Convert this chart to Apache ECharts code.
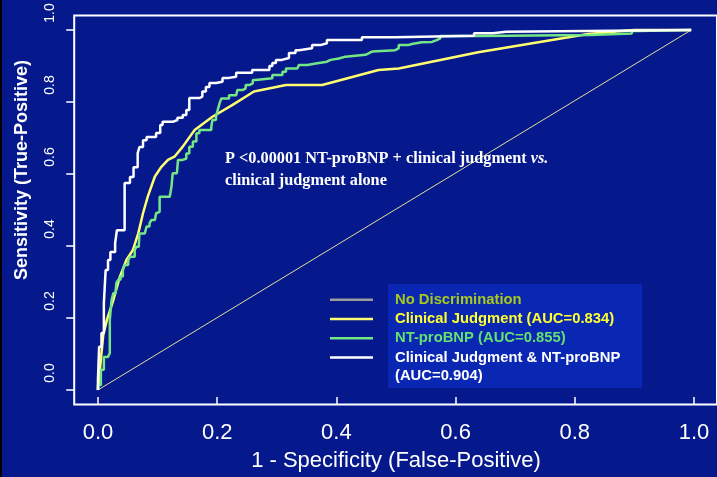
<!DOCTYPE html>
<html>
<head>
<meta charset="utf-8">
<title>ROC curves</title>
<script src="https://cdn.jsdelivr.net/npm/echarts@6/dist/echarts.min.js"></script>
<style>
html, body { margin: 0; padding: 0; background: #05198c; }
#chart { width: 717px; height: 477px; }
</style>
</head>
<body>
<div id="chart"></div>
<script>
// points are [1 - specificity, sensitivity]
const noDiscrimination = [[0, 0], [1, 1]]

const clinicalJudgment = [
  [0, 0], [0.009, 0.153], [0.015, 0.194], [0.026, 0.25], [0.037, 0.315], [0.048, 0.361],
  [0.059, 0.389], [0.068, 0.435], [0.076, 0.491], [0.084, 0.537], [0.096, 0.593],
  [0.107, 0.62], [0.118, 0.639], [0.129, 0.648], [0.143, 0.676], [0.163, 0.722],
  [0.193, 0.759], [0.227, 0.792], [0.263, 0.829], [0.317, 0.847], [0.378, 0.847],
  [0.473, 0.889], [0.507, 0.893], [0.641, 0.938], [0.826, 0.989], [0.904, 1], [1, 1]
]

const ntProBNP = [
  [0, 0], [0, 0.014], [0.005, 0.056], [0.01, 0.092], [0.017, 0.097], [0.02, 0.103],
  [0.02, 0.194], [0.023, 0.25], [0.026, 0.269], [0.03, 0.278], [0.031, 0.297],
  [0.034, 0.306], [0.038, 0.315], [0.042, 0.333], [0.045, 0.347], [0.051, 0.361],
  [0.054, 0.37], [0.062, 0.389], [0.065, 0.398], [0.069, 0.407], [0.07, 0.435],
  [0.079, 0.44], [0.082, 0.454], [0.087, 0.463], [0.09, 0.472], [0.096, 0.477],
  [0.098, 0.491], [0.101, 0.495], [0.104, 0.537], [0.121, 0.542], [0.124, 0.565],
  [0.126, 0.602], [0.133, 0.606], [0.135, 0.639], [0.143, 0.643], [0.149, 0.657],
  [0.154, 0.676], [0.16, 0.69], [0.166, 0.713], [0.171, 0.722], [0.191, 0.731],
  [0.193, 0.75], [0.199, 0.759], [0.202, 0.778], [0.205, 0.796], [0.208, 0.81],
  [0.221, 0.819], [0.233, 0.824], [0.235, 0.833], [0.244, 0.838], [0.249, 0.847],
  [0.255, 0.852], [0.261, 0.861], [0.266, 0.866], [0.294, 0.875], [0.311, 0.884],
  [0.317, 0.893], [0.336, 0.898], [0.339, 0.903], [0.353, 0.907], [0.367, 0.912],
  [0.386, 0.917], [0.392, 0.921], [0.406, 0.926], [0.417, 0.931], [0.451, 0.935],
  [0.456, 0.94], [0.462, 0.944], [0.501, 0.949], [0.507, 0.958], [0.523, 0.961],
  [0.529, 0.966], [0.546, 0.967], [0.563, 0.972], [0.571, 0.977], [0.577, 0.983],
  [0.641, 0.986], [0.83, 0.99], [0.9, 0.997], [0.91, 1], [1, 1]
]

const combined = [
  [0, 0], [0, 0.028], [0.002, 0.12], [0.006, 0.158], [0.01, 0.242], [0.013, 0.333],
  [0.017, 0.361], [0.021, 0.383], [0.029, 0.408], [0.032, 0.444], [0.045, 0.575],
  [0.054, 0.592], [0.06, 0.619], [0.067, 0.658], [0.07, 0.675], [0.076, 0.694],
  [0.082, 0.703], [0.098, 0.714], [0.105, 0.736], [0.109, 0.745], [0.126, 0.75],
  [0.134, 0.756], [0.143, 0.764], [0.149, 0.778], [0.154, 0.811], [0.171, 0.815],
  [0.176, 0.829], [0.182, 0.842], [0.188, 0.853], [0.199, 0.856], [0.21, 0.867],
  [0.221, 0.87], [0.233, 0.881], [0.26, 0.889], [0.289, 0.9], [0.294, 0.908],
  [0.3, 0.917], [0.31, 0.922], [0.322, 0.936], [0.333, 0.944], [0.339, 0.949],
  [0.361, 0.958], [0.375, 0.963], [0.386, 0.972], [0.445, 0.98], [0.501, 0.984],
  [0.634, 0.991], [0.666, 0.995], [0.688, 1], [1, 1]
]

const seriesNames = [
  'No Discrimination',
  'Clinical Judgment (AUC=0.834)',
  'NT-proBNP (AUC=0.855)',
  'Clinical Judgment & NT-proBNP'
]
const lineColors = ['#e0e09a', '#ffff70', '#74e686', '#ffffff']
const legendIconColors = ['#9c9c9c', '#ffff70', '#74e686', '#ffffff']
const legendTextColors = ['#a8c81c', '#ffff30', '#66e070', '#ffffff']

const sansFont = 'Liberation Sans, Arial, sans-serif'
const serifFont = 'Liberation Serif, Times New Roman, serif'
const fmt = v => v.toFixed(1)

const chart = echarts.init(document.getElementById('chart'))

const option = {
  backgroundColor: '#05198c',
  animation: false,
  grid: [
    // data area, R style with 4% padding, box drawn by the grid border
    { left: 74.2, right: -3, top: 15.6, bottom: 72.6, show: true, borderColor: '#fff', borderWidth: 2, backgroundColor: 'transparent' },
    // x ticks, sitting on the bottom of the box
    { left: 98, right: 23, top: 30, bottom: 72.6 },
    // y ticks, sitting on the left of the box
    { left: 74.2, right: 23, top: 30, bottom: 87 },
    // y tick labels (shifted up as in the slide)
    { left: 74.2, right: 23, top: 13, bottom: 104 }
  ],
  xAxis: [
    { gridIndex: 0, type: 'value', min: -0.04, max: 1.0435, show: false },
    {
      gridIndex: 1, type: 'value', min: 0, max: 1, interval: 0.2,
      axisLine: { show: false },
      axisTick: { length: 7, lineStyle: { color: '#fff', width: 1.5 } },
      axisLabel: { color: '#fff', fontSize: 22, fontFamily: sansFont, margin: 25, formatter: fmt },
      splitLine: { show: false },
      name: '1 - Specificity (False-Positive)',
      nameLocation: 'middle',
      nameGap: 53,
      nameTextStyle: { color: '#fff', fontSize: 22, fontFamily: sansFont }
    },
    { gridIndex: 2, type: 'value', min: 0, max: 1, show: false },
    { gridIndex: 3, type: 'value', min: 0, max: 1, show: false }
  ],
  yAxis: [
    { gridIndex: 0, type: 'value', min: -0.04, max: 1.04, show: false },
    { gridIndex: 1, type: 'value', min: 0, max: 1, show: false },
    {
      gridIndex: 2, type: 'value', min: 0, max: 1, interval: 0.2,
      axisLine: { show: false },
      axisTick: { length: 8, lineStyle: { color: '#fff', width: 1.5 } },
      axisLabel: { show: false },
      splitLine: { show: false }
    },
    {
      gridIndex: 3, type: 'value', min: 0, max: 1, interval: 0.2,
      axisLine: { show: false },
      axisTick: { show: false },
      axisLabel: { color: '#fff', fontSize: 14, fontFamily: sansFont, rotate: 90, margin: 17, formatter: fmt },
      splitLine: { show: false }
    }
  ],
  legend: {
    orient: 'vertical',
    left: 325,
    top: 285,
    itemWidth: 43,
    itemHeight: 2.5,
    itemGap: 0,
    icon: 'rect',
    selectedMode: false,
    z: 5,
    textStyle: { fontFamily: sansFont, fontWeight: 'bold', fontSize: 14.8, lineHeight: 19.3, padding: [0, 0, 0, 17] },
    data: seriesNames.map((name, i) => ({
      name,
      itemStyle: { color: legendIconColors[i] },
      textStyle: { color: legendTextColors[i] }
    }))
  },
  graphic: [
    { type: 'rect', left: 0, top: 0, shape: { width: 2, height: 477 }, style: { fill: '#000' } },
    { type: 'rect', left: 388, top: 284, z: 1, shape: { width: 254, height: 104 }, style: { fill: '#0a27b4' } },
    {
      type: 'text', left: 395, top: 368, z: 6,
      style: { text: '(AUC=0.904)', fill: '#fff', font: 'bold 14.8px ' + sansFont }
    },
    {
      type: 'text', x: 22, y: 170, rotation: Math.PI / 2,
      style: { text: 'Sensitivity (True-Positive)', fill: '#fff', font: 'bold 18px ' + sansFont, align: 'center', verticalAlign: 'middle' }
    },
    {
      type: 'text', left: 225, top: 151, z: 6,
      style: {
        text: '{a|P <0.00001 NT-proBNP + clinical judgment }{b|vs.}\n{a|clinical judgment alone}',
        rich: {
          a: { fill: '#fff', fontFamily: serifFont, fontWeight: 'bold', fontSize: 16.3, lineHeight: 22 },
          b: { fill: '#fff', fontFamily: serifFont, fontWeight: 'bold', fontStyle: 'italic', fontSize: 16.3, lineHeight: 22 }
        }
      }
    }
  ],
  series: [
    { name: seriesNames[0], type: 'line', data: noDiscrimination, symbol: 'none', lineStyle: { color: lineColors[0], width: 1 }, itemStyle: { color: lineColors[0] } },
    { name: seriesNames[1], type: 'line', data: clinicalJudgment, symbol: 'none', lineStyle: { color: lineColors[1], width: 2.5 }, itemStyle: { color: lineColors[1] } },
    { name: seriesNames[2], type: 'line', data: ntProBNP, step: 'end', symbol: 'none', lineStyle: { color: lineColors[2], width: 2.5 }, itemStyle: { color: lineColors[2] } },
    { name: seriesNames[3], type: 'line', data: combined, step: 'end', symbol: 'none', lineStyle: { color: lineColors[3], width: 2.5 }, itemStyle: { color: lineColors[3] } }
  ]
}

chart.setOption(option)
window.addEventListener('resize', () => chart.resize())
</script>
</body>
</html>
